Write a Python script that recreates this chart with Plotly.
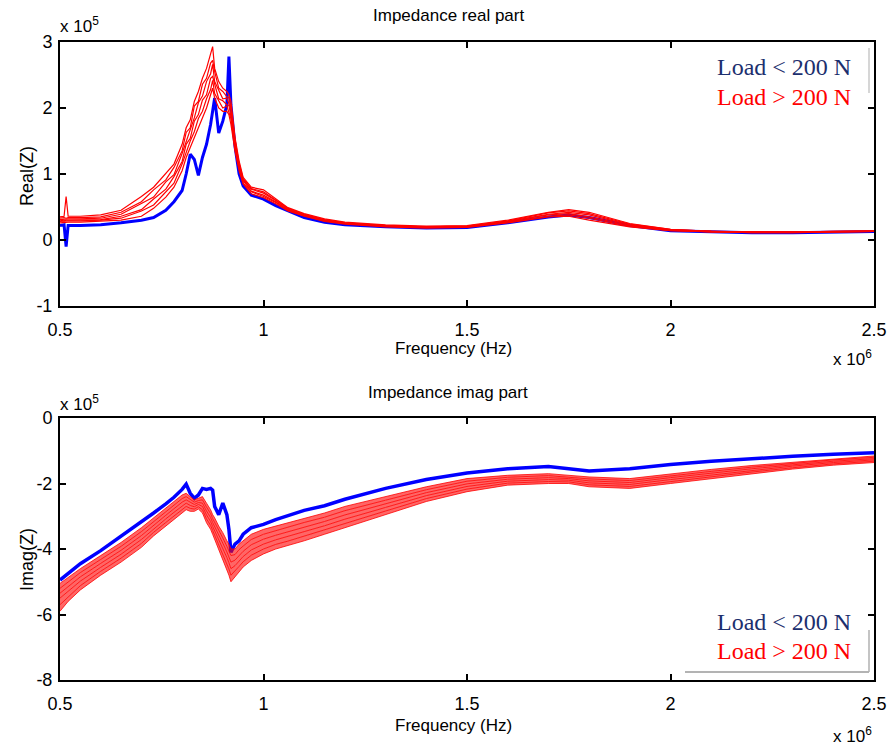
import plotly.graph_objects as go

# Frequency in units of 10^6 Hz
freq = [0.50, 0.51, 0.515, 0.52, 0.55, 0.60, 0.65, 0.70, 0.73, 0.76, 0.78, 0.80,
        0.81, 0.82, 0.83, 0.84, 0.85, 0.86, 0.87, 0.875, 0.88, 0.89,
        0.90, 0.91, 0.915, 0.92, 0.93, 0.94, 0.95, 0.97, 1.00, 1.03,
        1.06, 1.10, 1.15, 1.20, 1.30, 1.40, 1.50, 1.60, 1.70, 1.75,
        1.80, 1.90, 2.00, 2.10, 2.20, 2.30, 2.40, 2.50]

# Real part, units of 10^5
real_blue = [0.22, 0.23, -0.10, 0.22, 0.22, 0.23, 0.26, 0.30, 0.34, 0.45, 0.58, 0.75,
             1.00, 1.30, 1.22, 0.98, 1.25, 1.45, 1.75, 1.95, 2.15, 1.62,
             1.80, 2.05, 2.78, 2.05, 1.42, 1.00, 0.82, 0.68, 0.62, 0.52,
             0.44, 0.34, 0.27, 0.23, 0.20, 0.18, 0.19, 0.26, 0.35, 0.38,
             0.34, 0.22, 0.14, 0.12, 0.11, 0.11, 0.12, 0.13]
real_red_1 = [.26, .27, .27, .27, .27, .28, .30, .36, .48, .65, .80, 1.05,
              1.25, 1.40, 1.55, 1.72, 1.85, 2.00, 2.20, 2.30, 2.15, 2.00,
              1.95, 1.95, 1.90, 1.75, 1.35, 1.05, .85, .70, .64, .55,
              .44, .36, .28, .24, .20, .18, .19, .26, .35, .36,
              .30, .20, .14, .12, .11, .11, .12, .13]
real_red_2 = [.28, .29, .29, .29, .29, .30, .33, .44, .53, .73, .86, 1.15,
              1.34, 1.50, 1.64, 1.84, 1.95, 2.14, 2.28, 2.42, 2.22, 2.10,
              2.00, 2.03, 1.94, 1.84, 1.38, 1.09, .86, .73, .66, .57,
              .45, .37, .29, .25, .21, .19, .20, .27, .36, .38,
              .33, .21, .14, .12, .11, .11, .12, .13]
real_red_3 = [.30, .29, .30, .30, .30, .31, .36, .46, .62, .77, .96, 1.19,
              1.45, 1.54, 1.80, 1.90, 2.12, 2.20, 2.45, 2.48, 2.36, 2.14,
              2.11, 2.05, 2.04, 1.87, 1.44, 1.10, .90, .74, .68, .58,
              .46, .37, .30, .25, .21, .19, .20, .28, .38, .40,
              .35, .22, .15, .12, .12, .12, .12, .13]
real_red_4 = [.31, .32, .32, .32, .32, .33, .39, .55, .65, .88, .99, 1.31,
              1.50, 1.67, 1.85, 2.08, 2.18, 2.40, 2.52, 2.66, 2.40, 2.27,
              2.14, 2.15, 2.06, 1.98, 1.46, 1.15, .91, .77, .71, .60,
              .47, .38, .30, .26, .22, .20, .21, .28, .39, .42,
              .38, .23, .15, .13, .12, .12, .13, .13]
real_red_5 = [.33, .34, .33, .34, .34, .35, .42, .58, .76, .91, 1.10, 1.35,
              1.63, 1.70, 2.03, 2.10, 2.36, 2.45, 2.68, 2.72, 2.55, 2.30,
              2.25, 2.17, 2.16, 2.01, 1.52, 1.16, .93, .78, .73, .61,
              .48, .39, .31, .26, .22, .20, .21, .29, .41, .44,
              .40, .24, .16, .13, .12, .12, .13, .14]
real_red_6 = [.35, .36, .66, .36, .36, .38, .45, .66, .80, 1.00, 1.15, 1.45,
              1.70, 1.82, 2.10, 2.25, 2.45, 2.60, 2.80, 2.93, 2.60, 2.40,
              2.30, 2.25, 2.20, 2.10, 1.55, 1.20, .95, .80, .76, .62,
              .49, .40, .32, .27, .23, .21, .22, .30, .42, .46,
              .42, .25, .16, .13, .12, .12, .13, .14]

# Imaginary part, units of 10^5
imag_blue = [-4.95, -4.85, -4.80, -4.75, -4.45, -4.05, -3.62, -3.18, -2.90, -2.62, -2.42, -2.18,
             -2.02, -2.30, -2.45, -2.35, -2.15, -2.18, -2.15, -2.20, -2.70, -2.95,
             -2.60, -2.95, -3.40, -4.10, -3.85, -3.75, -3.55, -3.35, -3.25, -3.10,
             -2.98, -2.82, -2.68, -2.48, -2.15, -1.88, -1.68, -1.55, -1.48, -1.55,
             -1.62, -1.55, -1.42, -1.32, -1.24, -1.17, -1.11, -1.06]
imag_red_1 = [-5.90, -5.75, -5.68, -5.60, -5.25, -4.80, -4.40, -3.95, -3.60, -3.30, -3.10, -2.90,
              -2.80, -2.85, -2.85, -2.78, -2.90, -3.20, -3.40, -3.55, -3.70, -4.00,
              -4.30, -4.60, -4.80, -5.00, -4.85, -4.70, -4.55, -4.35, -4.15, -4.00,
              -3.90, -3.75, -3.55, -3.35, -2.95, -2.55, -2.25, -2.05, -2.00, -2.00,
              -2.10, -2.15, -2.00, -1.85, -1.70, -1.56, -1.44, -1.36]
imag_red_2 = [-5.70, -5.58, -5.52, -5.45, -5.12, -4.68, -4.28, -3.83, -3.49, -3.19, -2.99, -2.79,
              -2.70, -2.76, -2.78, -2.71, -2.80, -3.08, -3.28, -3.43, -3.57, -3.86,
              -4.14, -4.43, -4.61, -4.80, -4.68, -4.53, -4.39, -4.19, -4.00, -3.86,
              -3.76, -3.61, -3.42, -3.22, -2.84, -2.46, -2.17, -1.99, -1.94, -1.95,
              -2.04, -2.09, -1.94, -1.79, -1.65, -1.52, -1.40, -1.32]
imag_red_3 = [-5.50, -5.40, -5.35, -5.30, -4.98, -4.56, -4.16, -3.71, -3.38, -3.08, -2.88, -2.68,
              -2.60, -2.67, -2.71, -2.64, -2.70, -2.96, -3.16, -3.31, -3.44, -3.72,
              -3.98, -4.26, -4.42, -4.60, -4.51, -4.36, -4.23, -4.03, -3.85, -3.72,
              -3.62, -3.47, -3.29, -3.09, -2.73, -2.37, -2.09, -1.93, -1.88, -1.90,
              -1.98, -2.03, -1.88, -1.74, -1.60, -1.47, -1.36, -1.28]
imag_red_4 = [-5.35, -5.25, -5.20, -5.15, -4.85, -4.44, -4.04, -3.59, -3.27, -2.97, -2.77, -2.57,
              -2.50, -2.58, -2.64, -2.58, -2.60, -2.84, -3.04, -3.19, -3.31, -3.58,
              -3.82, -4.09, -4.23, -4.40, -4.34, -4.19, -4.07, -3.87, -3.70, -3.58,
              -3.48, -3.33, -3.16, -2.96, -2.62, -2.28, -2.01, -1.87, -1.82, -1.85,
              -1.92, -1.97, -1.82, -1.68, -1.55, -1.43, -1.32, -1.24]
imag_red_5 = [-5.20, -5.10, -5.05, -5.00, -4.72, -4.32, -3.92, -3.47, -3.16, -2.86, -2.66, -2.46,
              -2.40, -2.49, -2.57, -2.52, -2.50, -2.72, -2.92, -3.07, -3.18, -3.44,
              -3.66, -3.92, -4.04, -4.20, -4.17, -4.02, -3.91, -3.71, -3.55, -3.44,
              -3.34, -3.19, -3.03, -2.83, -2.51, -2.19, -1.93, -1.81, -1.76, -1.80,
              -1.86, -1.91, -1.76, -1.63, -1.50, -1.39, -1.28, -1.20]
imag_red_6 = [-5.05, -4.96, -4.92, -4.88, -4.60, -4.20, -3.80, -3.35, -3.05, -2.75, -2.55, -2.35,
              -2.30, -2.40, -2.50, -2.45, -2.40, -2.60, -2.80, -2.95, -3.05, -3.30,
              -3.50, -3.75, -3.85, -4.00, -4.00, -3.85, -3.75, -3.55, -3.40, -3.30,
              -3.20, -3.05, -2.90, -2.70, -2.40, -2.10, -1.85, -1.75, -1.70, -1.75,
              -1.80, -1.85, -1.70, -1.57, -1.45, -1.35, -1.24, -1.16]

x_ticks = [0.5, 1, 1.5, 2, 2.5]
x_ticktext = ["0.5", "1", "1.5", "2", "2.5"]
real_ticks = [-1, 0, 1, 2, 3]
real_ticktext = ["-1", "0", "1", "2", "3"]
imag_ticks = [-8, -6, -4, -2, 0]
imag_ticktext = ["-8", "-6", "-4", "-2", "0"]

W, H = 889, 746
def px(x):
    return x / W
def py(y):
    return 1 - y / H

BLUE = "#0000ff"
RED = "#ff0000"
NAVY = "#1c2f6e"
SANS = "Liberation Sans, Arial, sans-serif"
SERIF = "Liberation Serif, Times New Roman, serif"

fig = go.Figure()

# Top: real part
fig.add_trace(go.Scatter(x=freq, y=real_blue, mode="lines", line=dict(color=BLUE, width=3),
                         xaxis="x", yaxis="y", name="Load < 200 N"))
for r in [real_red_1, real_red_2, real_red_3, real_red_4, real_red_5, real_red_6]:
    fig.add_trace(go.Scatter(x=freq, y=r, mode="lines", line=dict(color=RED, width=1.2),
                             xaxis="x", yaxis="y", name="Load > 200 N"))

# Bottom: imag part
fig.add_trace(go.Scatter(x=freq, y=imag_blue, mode="lines", line=dict(color=BLUE, width=3.5),
                         xaxis="x2", yaxis="y2", name="Load < 200 N"))
for i, r in enumerate([imag_red_1, imag_red_2, imag_red_3, imag_red_4, imag_red_5, imag_red_6]):
    fig.add_trace(go.Scatter(x=freq, y=r, mode="lines", line=dict(color=RED, width=0.8),
                             fill=None if i == 0 else "tonexty",
                             fillcolor="rgba(255,0,0,0.6)",
                             xaxis="x2", yaxis="y2", name="Load > 200 N"))

axis_common = dict(showline=True, linewidth=2, linecolor="black", mirror="ticks",
                   ticks="inside", ticklen=6, tickwidth=2, tickcolor="black",
                   showgrid=False, zeroline=False, automargin=False,
                   tickfont=dict(family=SANS, size=18, color="black"))

x_dom = [px(60), px(874)]
fig.update_layout(
    width=W, height=H, autosize=False, margin=dict(l=0, r=0, t=0, b=0, pad=0),
    plot_bgcolor="white", paper_bgcolor="white", showlegend=False,
    xaxis=dict(domain=x_dom, range=[0.5, 2.5], tickvals=x_ticks, ticktext=x_ticktext,
               anchor="y", ticklabelstandoff=6, **axis_common),
    yaxis=dict(domain=[py(306), py(42)], range=[-1, 3], tickvals=real_ticks,
               ticktext=real_ticktext, anchor="x", ticklabelstandoff=2, **axis_common),
    xaxis2=dict(domain=x_dom, range=[0.5, 2.5], tickvals=x_ticks, ticktext=x_ticktext,
                anchor="y2", ticklabelstandoff=6, **axis_common),
    yaxis2=dict(domain=[py(680), py(418)], range=[-8, 0], tickvals=imag_ticks,
                ticktext=imag_ticktext, anchor="x2", ticklabelstandoff=2, **axis_common),
)

def ann(text, x, y, size=16, family=SANS, color="black", xanchor="center", angle=0):
    fig.add_annotation(text=text, x=px(x), y=py(y), xref="paper", yref="paper",
                       showarrow=False, xanchor=xanchor, yanchor="middle", textangle=angle,
                       font=dict(family=family, size=size, color=color))

ann("Impedance real part", 448, 15, size=17)
ann("Frequency (Hz)", 453, 348, size=17)
ann("Real(Z)", 27, 176, size=18, angle=-90)
ann("x 10<sup>5</sup>", 58, 25, size=17, xanchor="left")
ann("x 10<sup>6</sup>", 831, 358, size=17, xanchor="left")

ann("Impedance imag part", 448, 392, size=17)
ann("Frequency (Hz)", 453, 725, size=17)
ann("Imag(Z)", 27, 560, size=18, angle=-90)
ann("x 10<sup>5</sup>", 58, 403, size=17, xanchor="left")
ann("x 10<sup>6</sup>", 831, 735, size=17, xanchor="left")

ann("Load &lt; 200 N", 715, 67, size=24, family=SERIF, color=NAVY, xanchor="left")
ann("Load &gt; 200 N", 715, 97, size=24, family=SERIF, color=RED, xanchor="left")
ann("Load &lt; 200 N", 715, 622, size=24, family=SERIF, color=NAVY, xanchor="left")
ann("Load &gt; 200 N", 715, 651, size=24, family=SERIF, color=RED, xanchor="left")

# faint legend box edges
fig.add_shape(type="line", xref="paper", yref="paper", x0=px(869), x1=px(869), y0=py(48), y1=py(93),
              line=dict(color="#c8c8c8", width=1.5))
fig.add_shape(type="line", xref="paper", yref="paper", x0=px(685), x1=px(869), y0=py(672), y1=py(672),
              line=dict(color="#9a9a9a", width=1.5))
fig.add_shape(type="line", xref="paper", yref="paper", x0=px(869), x1=px(869), y0=py(630), y1=py(672),
              line=dict(color="#b0b0b0", width=1.5))

fig.write_html("out.html", post_script="document.body.style.margin='0px';")
